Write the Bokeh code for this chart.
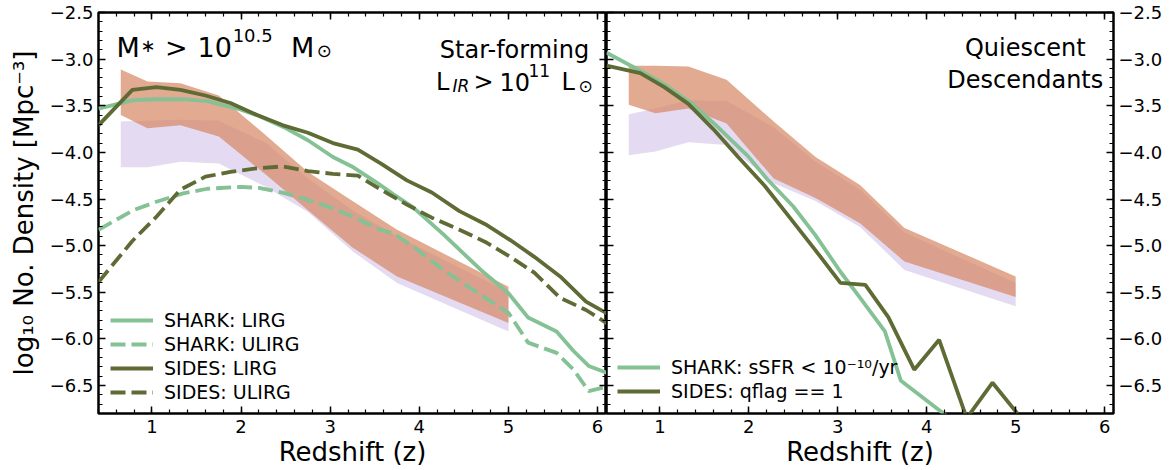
from bokeh.plotting import figure
from bokeh.models import (Range1d, LinearAxis, FixedTicker, CustomJSTickFormatter,
                          Legend, LegendItem, Label)
from bokeh.layouts import row
from bokeh.embed import file_html
from bokeh.resources import INLINE
import numpy as np

# ---------------- data ----------------
Z_SIDES = [0.40, 0.78, 1.05, 1.32, 1.60, 1.88, 2.18, 2.47, 2.75, 3.03, 3.31,
           3.57, 3.86, 4.14, 4.45, 4.74, 5.02, 5.29, 5.58, 5.87, 6.15]
SIDES_LIRG = [-3.71, -3.33, -3.30, -3.33, -3.39, -3.47, -3.60, -3.71, -3.79, -3.90, -3.97,
              -4.12, -4.30, -4.43, -4.63, -4.77, -4.94, -5.12, -5.33, -5.60, -5.75]
SIDES_ULIRG = [-5.39, -4.95, -4.69, -4.40, -4.26, -4.21, -4.17, -4.15, -4.20, -4.23, -4.25,
               -4.40, -4.56, -4.70, -4.83, -4.96, -5.12, -5.29, -5.56, -5.69, -5.86]

Z_SHARK = [0.40, 0.79, 1.05, 1.35, 1.62, 1.99, 2.20, 2.50, 2.75, 3.03, 3.26,
           3.53, 3.71, 3.93, 4.27, 4.69, 5.00, 5.22, 5.54, 5.73, 5.90, 6.15]
SHARK_LIRG = [-3.53, -3.44, -3.43, -3.43, -3.45, -3.54, -3.61, -3.74, -3.87, -4.05, -4.16,
              -4.33, -4.45, -4.59, -4.88, -5.26, -5.51, -5.77, -5.92, -6.13, -6.29, -6.38]
SHARK_ULIRG = [-4.83, -4.62, -4.53, -4.44, -4.39, -4.37, -4.38, -4.44, -4.51, -4.60, -4.69,
               -4.82, -4.87, -5.01, -5.26, -5.53, -5.72, -6.04, -6.15, -6.33, -6.56, -6.50]

Z_SHARK_Q = [0.40, 0.79, 1.05, 1.35, 1.62, 1.99, 2.20, 2.50, 2.75, 3.03, 3.26,
             3.53, 3.71, 3.93, 4.27]
SHARK_Q = [-2.93, -3.13, -3.27, -3.47, -3.70, -4.04, -4.28, -4.58, -4.89, -5.28, -5.57,
           -5.92, -6.45, -6.61, -6.86]
Z_SIDES_Q = [0.40, 0.78, 1.05, 1.32, 1.60, 1.88, 2.18, 2.47, 2.75, 3.03, 3.31,
             3.57, 3.86, 4.14, 4.45, 4.74, 5.02]
SIDES_Q = [-3.07, -3.15, -3.30, -3.48, -3.75, -4.05, -4.36, -4.71, -5.05, -5.40, -5.42,
           -5.77, -6.33, -6.01, -6.85, -6.47, -6.80]

Z_BAND = [0.65, 0.95, 1.32, 1.75, 2.28, 2.75, 3.25, 3.75, 5.00]
SF_SALMON_TOP = [-3.11, -3.24, -3.26, -3.39, -3.82, -4.21, -4.52, -4.83, -5.44]
SF_SALMON_BOT = [-3.60, -3.74, -3.71, -3.83, -4.24, -4.62, -5.02, -5.33, -5.83]
SF_LAV_TOP = [-3.67, -3.66, -3.65, -3.66, -3.90, -4.28, -4.62, -4.90, -5.50]
SF_LAV_BOT = [-4.16, -4.16, -4.10, -4.12, -4.37, -4.64, -5.06, -5.40, -5.92]
Q_SALMON_TOP = [-3.07, -3.07, -3.08, -3.22, -3.67, -4.05, -4.35, -4.81, -5.33]
Q_SALMON_BOT = [-3.49, -3.58, -3.53, -3.69, -4.28, -4.49, -4.76, -5.17, -5.55]
Q_LAV_TOP = [-3.59, -3.53, -3.44, -3.45, -3.73, -4.10, -4.40, -4.86, -5.40]
Q_LAV_BOT = [-4.03, -3.99, -3.89, -3.92, -4.33, -4.52, -4.80, -5.26, -5.65]

X_TICKS = [1, 2, 3, 4, 5, 6]
Y_TICKS = [-6.5, -6.0, -5.5, -5.0, -4.5, -4.0, -3.5, -3.0, -2.5]

X_LABEL = "Redshift (z)"
Y_LABEL = "log₁₀ No. Density [Mpc⁻³]"
LEGEND_SF = ["SHARK: LIRG", "SHARK: ULIRG", "SIDES: LIRG", "SIDES: ULIRG"]
LEGEND_Q = ["SHARK: sSFR < 10⁻¹⁰/yr", "SIDES: qflag == 1"]

# ---------------- style ----------------
FONT = "DejaVu Sans"
GREEN = "#84c194"
OLIVE = "#5f6b35"
SALMON = "#d68662"
LAVENDER = "#e4daf1"
LW = 3.8
DASH = "15 6"

X_MINOR = [round(v, 2) for v in np.arange(0.4, 6.1001, 0.2)]
Y_MINOR = [round(v, 2) for v in np.arange(-6.8, -2.4999, 0.1)]

HEIGHT = 470
FRAME_H = 401
TOP = 12


def style_axis(ax, ticks, minor, labels, fmt=None):
    ax.ticker = FixedTicker(ticks=ticks, minor_ticks=minor)
    ax.major_tick_in = 7
    ax.major_tick_out = 0
    ax.minor_tick_in = 4
    ax.minor_tick_out = 0
    ax.major_tick_line_width = 1.5
    ax.minor_tick_line_width = 1.2
    ax.major_tick_line_color = "black"
    ax.minor_tick_line_color = "black"
    ax.axis_line_color = None
    if labels:
        ax.major_label_text_font = FONT
        ax.major_label_text_font_size = "18px"
        ax.major_label_text_color = "black"
        ax.major_label_text_line_height = 1.0
        ax.major_label_standoff = 5
        if fmt is not None:
            ax.formatter = fmt
    else:
        ax.major_label_text_font_size = "0px"
        ax.major_label_text_color = None
        ax.major_label_standoff = 0


def style_label(ax, text, standoff):
    ax.axis_label = text
    ax.axis_label_text_font = FONT
    ax.axis_label_text_font_size = "26px"
    ax.axis_label_text_font_style = "normal"
    ax.axis_label_text_color = "black"
    ax.axis_label_text_line_height = 1.0
    ax.axis_label_standoff = standoff


y_fmt = CustomJSTickFormatter(code="return (tick < 0 ? '\\u2212' : '') + Math.abs(tick).toFixed(1);")
x_fmt = CustomJSTickFormatter(code="return tick.toFixed(0);")


def make_fig(width, left, right, yloc):
    p = figure(width=width, height=HEIGHT, x_range=Range1d(0.4, 6.1),
               y_range=Range1d(-6.8, -2.5), output_backend="svg", toolbar_location=None,
               min_border_left=left, min_border_right=right, min_border_top=TOP,
               min_border_bottom=HEIGHT - TOP - FRAME_H, y_axis_location=yloc)
    p.xgrid.visible = False
    p.ygrid.visible = False
    p.outline_line_color = "black"
    p.outline_line_width = 2.5
    p.background_fill_color = "white"
    p.border_fill_color = "white"
    style_axis(p.xaxis[0], X_TICKS, X_MINOR, True, x_fmt)
    p.xaxis[0].major_label_standoff = 6
    style_label(p.xaxis[0], X_LABEL, 1)
    style_axis(p.yaxis[0], Y_TICKS, Y_MINOR, True, y_fmt)
    top = LinearAxis()
    style_axis(top, X_TICKS, X_MINOR, False)
    p.add_layout(top, "above")
    other = LinearAxis()
    style_axis(other, Y_TICKS, Y_MINOR, False)
    p.add_layout(other, "right" if yloc == "left" else "left")
    return p


def add_label(p, x, y, text, size, align="left", style="normal"):
    p.add_layout(Label(x=x, y=y, text=text, text_font=FONT, text_font_size=size,
                       text_align=align, text_baseline="alphabetic",
                       text_font_style=style, text_color="black"))


# ---------------- left panel ----------------
p1 = make_fig(606, 98, 0, "left")
style_label(p1.yaxis[0], Y_LABEL, 8)

p1.varea(x=Z_BAND, y1=SF_LAV_BOT, y2=SF_LAV_TOP, fill_color=LAVENDER, fill_alpha=1.0)
p1.varea(x=Z_BAND, y1=SF_SALMON_BOT, y2=SF_SALMON_TOP, fill_color=SALMON, fill_alpha=0.7)

r_sh = p1.line(Z_SHARK, SHARK_LIRG, line_color=GREEN, line_width=LW)
r_shu = p1.line(Z_SHARK, SHARK_ULIRG, line_color=GREEN, line_width=LW, line_dash=DASH)
r_si = p1.line(Z_SIDES, SIDES_LIRG, line_color=OLIVE, line_width=LW)
r_siu = p1.line(Z_SIDES, SIDES_ULIRG, line_color=OLIVE, line_width=LW, line_dash=DASH)

leg1 = Legend(items=[LegendItem(label=LEGEND_SF[0], renderers=[r_sh]),
                     LegendItem(label=LEGEND_SF[1], renderers=[r_shu]),
                     LegendItem(label=LEGEND_SF[2], renderers=[r_si]),
                     LegendItem(label=LEGEND_SF[3], renderers=[r_siu])],
              location=(12, 10))

# annotations (left)
add_label(p1, 0.602, -2.875, "M", "27px")
add_label(p1, 0.870, -2.854, "∗", "18px")
add_label(p1, 1.147, -2.875, ">", "27px")
add_label(p1, 1.511, -2.875, "10", "27px")
add_label(p1, 1.905, -2.747, "10.5", "18px")
add_label(p1, 2.560, -2.875, "M", "27px")
add_label(p1, 2.850, -2.907, "⊙", "18px")

add_label(p1, 5.068, -2.907, "Star-forming", "24px", align="center")
add_label(p1, 4.188, -3.240, "L", "24px")
add_label(p1, 4.372, -3.283, "IR", "17px", style="italic")
add_label(p1, 4.608, -3.240, ">", "24px")
add_label(p1, 4.900, -3.240, "10", "24px")
add_label(p1, 5.225, -3.122, "11", "17px")
add_label(p1, 5.595, -3.240, "L", "24px")
add_label(p1, 5.786, -3.283, "⊙", "17px")

# ---------------- right panel ----------------
p2 = make_fig(566, 0, 59, "right")

p2.varea(x=Z_BAND, y1=Q_LAV_BOT, y2=Q_LAV_TOP, fill_color=LAVENDER, fill_alpha=1.0)
p2.varea(x=Z_BAND, y1=Q_SALMON_BOT, y2=Q_SALMON_TOP, fill_color=SALMON, fill_alpha=0.7)

r_shq = p2.line(Z_SHARK_Q, SHARK_Q, line_color=GREEN, line_width=LW)
r_siq = p2.line(Z_SIDES_Q, SIDES_Q, line_color=OLIVE, line_width=LW)

leg2 = Legend(items=[LegendItem(label=LEGEND_Q[0], renderers=[r_shq]),
                     LegendItem(label=LEGEND_Q[1], renderers=[r_siq])],
              location=(11, 11))

add_label(p2, 5.108, -2.886, "Quiescent", "24px", align="center")
add_label(p2, 5.108, -3.229, "Descendants", "24px", align="center")

for p, leg in ((p1, leg1), (p2, leg2)):
    leg.label_text_font = FONT
    leg.label_text_font_size = "19px"
    leg.label_text_color = "black"
    leg.glyph_width = 43
    leg.glyph_height = 22
    leg.label_height = 22
    leg.label_standoff = 11
    leg.spacing = 2
    leg.padding = 0
    leg.margin = 0
    leg.border_line_color = None
    leg.background_fill_alpha = 0
    p.add_layout(leg)

layout = row(p1, p2, spacing=0)
open("out.html", "w").write(file_html(layout, INLINE))
